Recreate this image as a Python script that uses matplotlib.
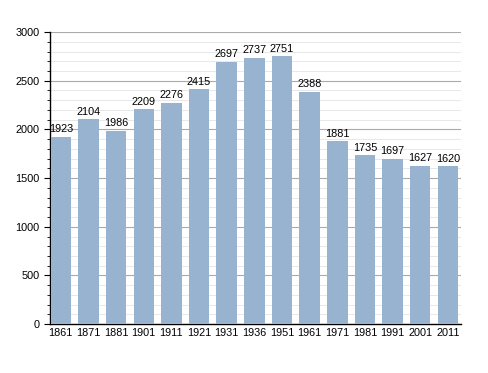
import matplotlib
matplotlib.use("Agg")
import matplotlib.pyplot as plt
from matplotlib.ticker import MultipleLocator

years = ["1861", "1871", "1881", "1901", "1911", "1921", "1931", "1936", "1951", "1961", "1971", "1981", "1991", "2001", "2011"]
population = [1923, 2104, 1986, 2209, 2276, 2415, 2697, 2737, 2751, 2388, 1881, 1735, 1697, 1627, 1620]

plt.rcParams['font.family'] = ['Liberation Sans', 'DejaVu Sans']
fig = plt.figure(figsize=(4.88, 3.73), dpi=100)
ax = fig.add_axes([0.1025, 0.131, 0.842, 0.783])

x = range(len(years))
ax.bar(x, population, width=0.74, color="#98b3cf", zorder=3)
for xi, v in zip(x, population):
    ax.text(xi, v + 25, str(v), ha="center", va="bottom", fontsize=7.8, zorder=4)

ax.set_xlim(-0.39, len(years) - 0.53)
ax.set_ylim(0, 3000)
ax.set_xticks(list(x))
ax.set_xticklabels(years, fontsize=7.8)
ax.yaxis.set_major_locator(MultipleLocator(500))
ax.yaxis.set_minor_locator(MultipleLocator(100))
ax.tick_params(axis="y", labelsize=7.8, length=4, direction="out")
ax.tick_params(axis="y", which="minor", length=2)
ax.tick_params(axis="x", length=0, pad=3)
ax.grid(axis="y", which="major", color="#aaaaaa", linewidth=0.8, zorder=0)
ax.grid(axis="y", which="minor", color="#e4e4e4", linewidth=0.6, zorder=0)
for s in ["top", "right"]:
    ax.spines[s].set_visible(False)
ax.spines["left"].set_linewidth(1)
ax.spines["bottom"].set_linewidth(1)

fig.savefig("out.png", dpi=100)
